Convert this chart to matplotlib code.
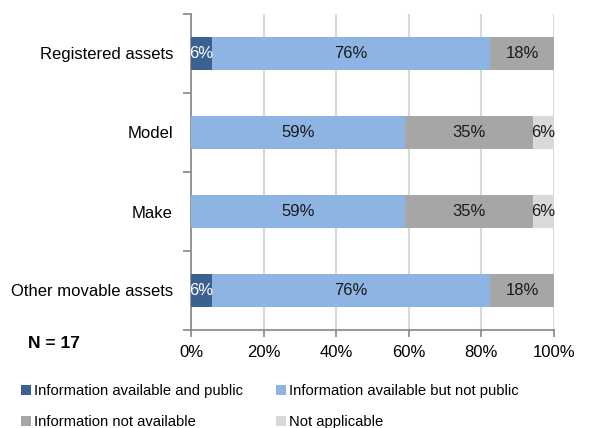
import matplotlib
matplotlib.use('Agg')
import matplotlib.pyplot as plt
import numpy as np
from matplotlib.patches import Patch

# Categories top to bottom
categories = ['Registered assets', 'Model', 'Make', 'Other movable assets']

# Shares (%) per series, same order as categories
avail_public = [5.88, 0.0, 0.0, 5.88]
avail_not_public = [76.47, 58.82, 58.82, 76.47]
not_available = [17.65, 35.29, 35.29, 17.65]
not_applicable = [0.0, 5.88, 5.88, 0.0]

series_names = ['Information available and public',
                'Information available but not public',
                'Information not available',
                'Not applicable']
series_colors = ['#3A6190', '#8EB4E3', '#A6A6A6', '#D9D9D9']
label_colors = ['white', '#1a1a1a', '#1a1a1a', '#1a1a1a']

x_ticks = [0, 20, 40, 60, 80, 100]

plt.rcParams['font.family'] = ['Liberation Sans', 'DejaVu Sans']
plt.rcParams['font.size'] = 11

fig = plt.figure(figsize=(5.94, 4.28), dpi=100)
ax = fig.add_axes([191 / 594, 1 - 330 / 428, (554 - 191) / 594, (330 - 14) / 428])

y = np.arange(len(categories))
series = [avail_public, avail_not_public, not_available, not_applicable]
left = np.zeros(len(categories))
for vals, color, tcol in zip(series, series_colors, label_colors):
    vals = np.array(vals)
    ax.barh(y, vals, left=left, height=0.41, color=color, zorder=3)
    for yi, (l, v) in enumerate(zip(left, vals)):
        if v > 0:
            ax.text(l + v / 2, yi, f'{v:.0f}%', ha='center', va='center',
                    color=tcol, fontsize=12, zorder=4)
    left += vals

ax.set_xlim(0, 100)
ax.set_ylim(len(categories) - 0.5, -0.5)
ax.set_xticks(x_ticks)
ax.set_xticklabels([f'{t}%' for t in x_ticks], fontsize=12)
ax.set_yticks(y)
ax.set_yticklabels(categories, fontsize=12)
ax.tick_params(axis='y', length=0, pad=13)
ax.set_yticks(np.arange(len(categories) + 1) - 0.5, minor=True)
ax.tick_params(axis='y', which='minor', length=6, width=1.2, color='#868686')
ax.tick_params(axis='x', length=5, width=1.2, color='#868686', pad=6)

ax.xaxis.grid(True, color='#D9D9D9', linewidth=1.5, zorder=0)
for s in ['top', 'right']:
    ax.spines[s].set_visible(False)
for s in ['left', 'bottom']:
    ax.spines[s].set_color('#868686')
    ax.spines[s].set_linewidth(1.2)

fig.text(28 / 594, 1 - 343 / 428, 'N = 17', fontsize=12.5, fontweight='bold',
         va='center', ha='left')

# legend filled row by row: reorder for matplotlib's column-major layout
order = [0, 2, 1, 3]
handles = [Patch(facecolor=series_colors[i], edgecolor='none') for i in order]
labels = [series_names[i] for i in order]
fig.legend(handles, labels, loc='upper left', bbox_to_anchor=(15 / 594, 1 - 378 / 428),
           ncol=2, frameon=False, fontsize=10.6, handlelength=0.7, handleheight=0.7,
           handletextpad=0.2, columnspacing=2.2, labelspacing=1.15,
           borderaxespad=0)

fig.savefig('out.png', dpi=100)
